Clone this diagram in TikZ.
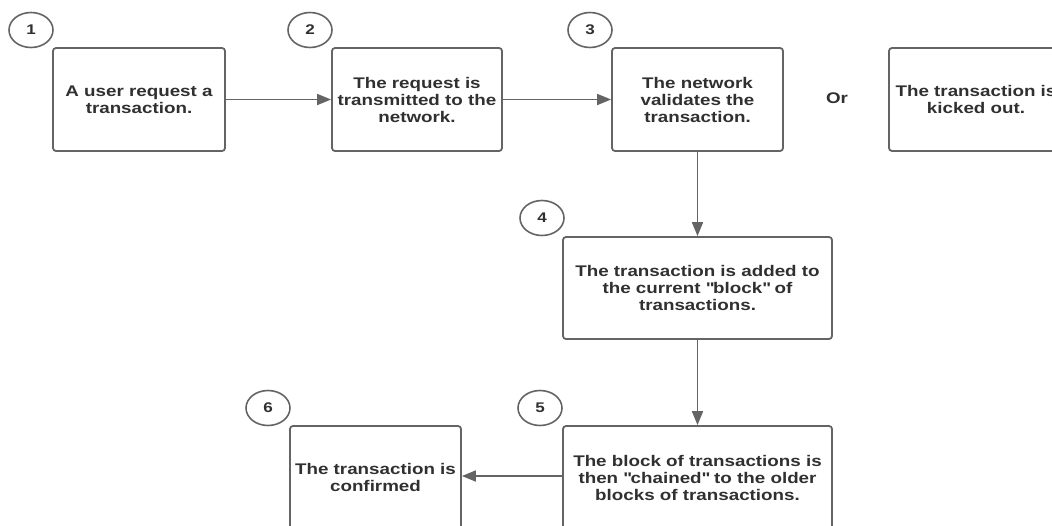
\documentclass[tikz,border=0pt]{standalone}
\usepackage{fontspec}
\setmainfont{Liberation Sans}[FakeStretch=1.22]
\usetikzlibrary{arrows.meta,shapes.geometric}
\definecolor{edge}{HTML}{646464}
\definecolor{ink}{HTML}{303030}
\tikzset{
  stepbox/.style={draw=edge, line width=1.8pt, rounded corners=3pt, fill=white,
    minimum height=103pt, inner sep=2pt, align=center, text=ink,
    font=\bfseries\fontsize{15.4}{17}\selectfont},
  numtag/.style={draw=edge, line width=1.6pt, ellipse, minimum width=44pt,
    minimum height=35pt, inner sep=0pt, text=ink,
    font=\bfseries\fontsize{14}{16}\selectfont},
  flow/.style={draw=edge, line width=1.8pt,
    -{Triangle[length=14pt,width=11pt]}},
  plain/.style={text=ink, font=\bfseries\fontsize{15.4}{17}\selectfont}
}
\newcommand{\qt}{\textquotedbl}
\begin{document}
\begin{tikzpicture}[x=1pt,y=-1pt]
\useasboundingbox (0,0) rectangle (1052,525);
\clip (0,0) rectangle (1052,525);

% step boxes
\node[stepbox, minimum width=172pt] (s1) at (139,99.5) {A user request a\\transaction.};
\node[stepbox, minimum width=170pt] (s2) at (417,99.5) {The request is\\transmitted to the\\network.};
\node[stepbox, minimum width=171pt] (s3) at (697.5,99.5) {The network\\validates the\\transaction.};
\node[plain] (or) at (837,98) {Or};
\node[stepbox, minimum width=174pt] (s3b) at (976,99.5) {The transaction is\\kicked out.};
\node[stepbox, minimum width=269pt, minimum height=102pt] (s4) at (697.5,288) {The transaction is added to\\the current \qt block\qt{} of\\transactions.};
\node[stepbox, minimum width=269pt] (s5) at (697.5,477.5) {The block of transactions is\\then \qt chained\qt{} to the older\\blocks of transactions.};
\node[stepbox, minimum width=171pt] (s6) at (375.5,477.5) {The transaction is\\confirmed};

% step numbers
\node[numtag] (n1) at (31,30) {1};
\node[numtag] (n2) at (310,30) {2};
\node[numtag] (n3) at (590,30) {3};
\node[numtag] (n4) at (542,218) {4};
\node[numtag] (n5) at (540,408) {5};
\node[numtag] (n6) at (268,408) {6};

% connectors
\draw[flow] (s1) -- (s2);
\draw[flow] (s2) -- (s3);
\draw[flow] (s3) -- (s4);
\draw[flow] (s4) -- (s5);
\draw[flow] (s5.west |- 0,476) -- (s6.east |- 0,476);
\end{tikzpicture}
\end{document}
